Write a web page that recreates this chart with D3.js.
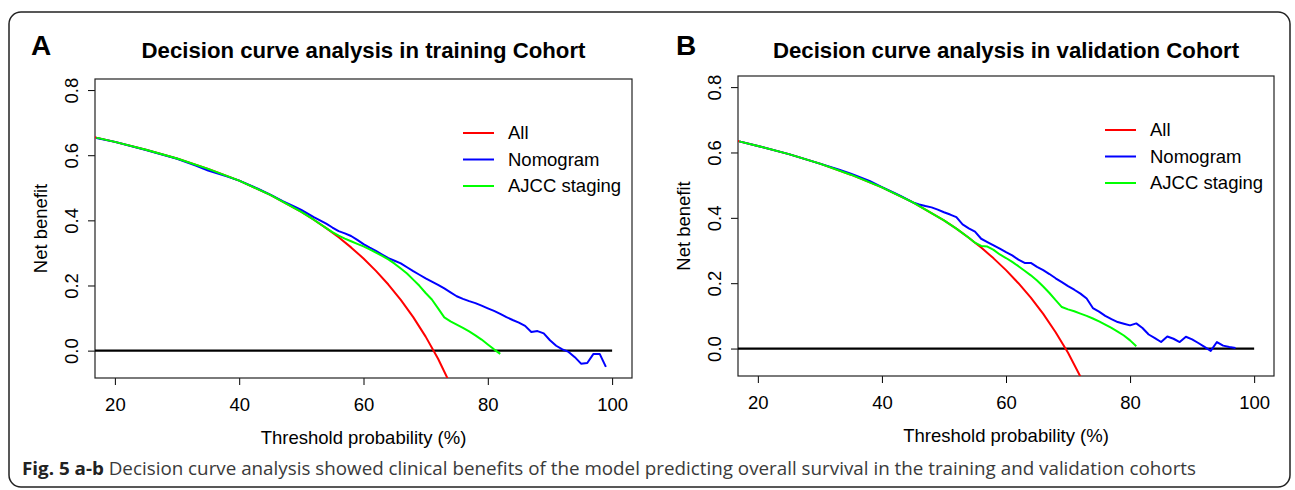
<!DOCTYPE html>
<meta charset="utf-8">
<style>
body { margin: 0; background: #fff; }
svg text { font-family: "Liberation Sans", Arial, sans-serif; }
.caption { font-family: "Open Sans", sans-serif; }
</style>
<svg width="1295" height="490"></svg>
<script src="https://cdn.jsdelivr.net/npm/d3@7"></script>
<script>

// threshold probability (%) and net benefit
var trainAll_x = [10, 17, 20, 25, 30, 35, 40, 45, 50, 52, 54, 55, 56, 58, 60, 62, 64, 66, 68, 70, 72, 74];
var trainAll_y = [0.681, 0.654, 0.641, 0.617, 0.590, 0.558, 0.522, 0.478, 0.426, 0.402, 0.376, 0.362, 0.348, 0.317, 0.283, 0.245, 0.203, 0.156, 0.103, 0.043, -0.025, -0.104];

var trainNomo_x = [17, 20, 25, 30, 33, 35, 38, 40, 43, 45, 47, 49, 50, 52, 53, 54, 55, 56, 57, 58, 59, 60,
  61, 62, 63, 64, 65, 66, 67, 68, 69, 70, 71, 72, 73, 74, 75, 76, 77, 78, 79, 80,
  81, 82, 83, 84, 85, 86, 87, 88, 89, 90, 91, 92, 93, 94, 95, 96, 97, 98, 99];
var trainNomo_y = [0.653, 0.641, 0.616, 0.589, 0.568, 0.553, 0.535, 0.522, 0.497, 0.479, 0.459, 0.441, 0.432, 0.410, 0.400, 0.390, 0.378, 0.367, 0.360, 0.352, 0.340, 0.327,
  0.316, 0.306, 0.295, 0.284, 0.276, 0.268, 0.256, 0.244, 0.233, 0.222, 0.212, 0.202, 0.191, 0.179, 0.167, 0.159, 0.152, 0.146, 0.138, 0.130,
  0.122, 0.113, 0.103, 0.094, 0.086, 0.076, 0.057, 0.060, 0.053, 0.032, 0.015, 0.004, -0.004, -0.020, -0.040, -0.038, -0.010, -0.010, -0.050];

var trainAjcc_x = [17, 20, 25, 30, 35, 40, 45, 50, 52, 54, 55, 56, 57, 58, 59, 60, 61, 62, 63, 64, 65, 66,
  67, 68, 69, 70, 71, 72, 73, 74, 75, 76, 77, 78, 79, 80, 81, 82];
var trainAjcc_y = [0.654, 0.641, 0.617, 0.590, 0.558, 0.522, 0.478, 0.426, 0.402, 0.376, 0.364, 0.353, 0.344, 0.336, 0.328, 0.320, 0.311, 0.301, 0.291, 0.280, 0.267, 0.252,
  0.237, 0.218, 0.199, 0.177, 0.157, 0.130, 0.102, 0.090, 0.080, 0.070, 0.059, 0.047, 0.034, 0.019, 0.004, -0.010];

var validAll_x = [10, 17, 20, 25, 30, 35, 40, 45, 50, 52, 54, 55, 56, 58, 60, 62, 64, 66, 68, 70, 72, 74];
var validAll_y = [0.662, 0.634, 0.620, 0.595, 0.566, 0.532, 0.493, 0.447, 0.392, 0.367, 0.339, 0.324, 0.309, 0.276, 0.240, 0.200, 0.156, 0.106, 0.050, -0.013, -0.086, -0.170];

var validNomo_x = [17, 20, 25, 30, 33, 35, 38, 40, 42, 43, 44, 45, 46, 47, 48, 49, 50, 51, 52, 53, 54, 55,
  56, 57, 58, 59, 60, 61, 62, 63, 64, 65, 66, 67, 68, 69, 70, 71, 72, 73, 74, 75,
  76, 77, 78, 79, 80, 81, 82, 83, 84, 85, 86, 87, 88, 89, 90, 91, 92, 93, 94, 95, 96, 97];
var validNomo_y = [0.634, 0.620, 0.595, 0.566, 0.548, 0.535, 0.513, 0.494, 0.476, 0.467, 0.457, 0.447, 0.441, 0.436, 0.432, 0.425, 0.417, 0.410, 0.402, 0.380, 0.368, 0.358,
  0.336, 0.326, 0.316, 0.306, 0.295, 0.285, 0.272, 0.262, 0.262, 0.250, 0.240, 0.228, 0.215, 0.203, 0.191, 0.180, 0.168, 0.153, 0.124, 0.113,
  0.100, 0.090, 0.081, 0.076, 0.071, 0.077, 0.063, 0.043, 0.032, 0.020, 0.037, 0.030, 0.020, 0.036, 0.028, 0.017, 0.005, -0.007, 0.020, 0.009, 0.005, 0.002];

var validAjcc_x = [17, 20, 25, 30, 35, 40, 45, 50, 52, 54, 55, 56, 57, 58, 59, 60, 61, 62, 63, 64, 65, 66,
  67, 68, 69, 70, 71, 72, 73, 74, 75, 76, 77, 78, 79, 80, 81];
var validAjcc_y = [0.634, 0.620, 0.595, 0.566, 0.532, 0.493, 0.447, 0.392, 0.367, 0.339, 0.324, 0.314, 0.312, 0.302, 0.288, 0.277, 0.265, 0.252, 0.238, 0.224, 0.208, 0.190,
  0.170, 0.148, 0.127, 0.120, 0.114, 0.107, 0.100, 0.092, 0.083, 0.073, 0.063, 0.052, 0.040, 0.025, 0.007];

var seriesNames = ["All", "Nomogram", "AJCC staging"];
var seriesColors = ["#ff0000", "#0000ff", "#00ff00"];
var xTicks = [20, 40, 60, 80, 100];
var yTicks = [0, 0.2, 0.4, 0.6, 0.8];

var fs = 18.5; // base text size, title is 1.2x

var svg = d3.select("svg");

// outer frame
svg.append("rect")
  .attr("x", 9).attr("y", 12)
  .attr("width", 1281).attr("height", 475)
  .attr("rx", 12).attr("ry", 12)
  .attr("fill", "none")
  .attr("stroke", "#222")
  .attr("stroke-width", 1.5);

function drawPanel(p) {
  var x = d3.scaleLinear().domain([16.8, 103.2]).range([p.left, p.right]);
  var y = d3.scaleLinear().domain([-0.084, 0.834]).range([p.bottom, p.top]);

  var g = svg.append("g");

  g.append("clipPath").attr("id", "clip" + p.letter)
    .append("rect")
    .attr("x", p.left).attr("y", p.top)
    .attr("width", p.right - p.left).attr("height", p.bottom - p.top);

  // panel letter and title
  g.append("text")
    .attr("x", p.letterX).attr("y", 55)
    .attr("font-size", 28).attr("font-weight", "bold")
    .text(p.letter);
  g.append("text")
    .attr("x", (p.left + p.right) / 2).attr("y", 58)
    .attr("text-anchor", "middle")
    .attr("font-size", fs * 1.2).attr("font-weight", "bold")
    .text(p.title);

  // axes
  var xAxis = g.append("g")
    .attr("transform", "translate(0," + p.bottom + ")")
    .call(d3.axisBottom(x).tickValues(xTicks).tickSize(7).tickPadding(13));
  xAxis.selectAll("text").attr("font-size", fs).attr("font-family", null).attr("fill", "#000");

  var yAxis = g.append("g")
    .attr("transform", "translate(" + p.left + ",0)")
    .call(d3.axisLeft(y).tickValues(yTicks).tickFormat(d3.format(".1f")).tickSize(7));
  yAxis.selectAll("text")
    .attr("font-size", fs).attr("font-family", null).attr("fill", "#000")
    .attr("text-anchor", "middle")
    .attr("x", null)
    .attr("transform", "translate(-23,0) rotate(-90)")
    .attr("y", 0).attr("dy", "0.35em");
  g.selectAll(".domain").remove();

  // plot box
  g.append("rect")
    .attr("x", p.left).attr("y", p.top)
    .attr("width", p.right - p.left).attr("height", p.bottom - p.top)
    .attr("fill", "none").attr("stroke", "#222").attr("stroke-width", 1.2);

  g.append("text")
    .attr("x", (p.left + p.right) / 2).attr("y", p.bottom + 66)
    .attr("text-anchor", "middle").attr("font-size", fs)
    .text("Threshold probability (%)");
  g.append("text")
    .attr("transform", "translate(" + (p.left - 48) + "," + ((p.top + p.bottom) / 2) + ") rotate(-90)")
    .attr("text-anchor", "middle").attr("font-size", fs)
    .text("Net benefit");

  var line = d3.line()
    .x(function(d) { return x(d[0]); })
    .y(function(d) { return y(d[1]); });

  var plot = g.append("g").attr("clip-path", "url(#clip" + p.letter + ")");

  // treat-none reference line
  plot.append("path")
    .datum([[0, 0], [100, 0]])
    .attr("d", line)
    .attr("stroke", "#000").attr("stroke-width", 2.2).attr("fill", "none");

  p.series.forEach(function(s, i) {
    plot.append("path")
      .datum(d3.zip(s[0], s[1]))
      .attr("d", line)
      .attr("fill", "none")
      .attr("stroke", seriesColors[i])
      .attr("stroke-width", 2)
      .attr("stroke-linejoin", "round");
  });

  // legend
  var leg = g.append("g");
  seriesNames.forEach(function(name, i) {
    var ly = p.top + 54 + i * 26.5;
    leg.append("line")
      .attr("x1", p.right - 169).attr("x2", p.right - 138)
      .attr("y1", ly).attr("y2", ly)
      .attr("stroke", seriesColors[i]).attr("stroke-width", 2);
    leg.append("text")
      .attr("x", p.right - 124).attr("y", ly)
      .attr("dy", "0.35em").attr("font-size", fs)
      .text(name);
  });
}

drawPanel({
  letter: "A", letterX: 31,
  title: "Decision curve analysis in training Cohort",
  left: 95, right: 632, top: 79, bottom: 378,
  series: [[trainAll_x, trainAll_y], [trainNomo_x, trainNomo_y], [trainAjcc_x, trainAjcc_y]]
});

drawPanel({
  letter: "B", letterX: 676,
  title: "Decision curve analysis in validation Cohort",
  left: 738, right: 1274, top: 76, bottom: 376,
  series: [[validAll_x, validAll_y], [validNomo_x, validNomo_y], [validAjcc_x, validAjcc_y]]
});

// figure caption
var cap = svg.append("text")
  .attr("class", "caption")
  .attr("x", 22).attr("y", 475)
  .attr("font-size", 18)
  .attr("textLength", 1174)
  .attr("lengthAdjust", "spacingAndGlyphs")
  .attr("fill", "#3a3a3a");
cap.append("tspan").attr("font-weight", "bold").attr("fill", "#222").text("Fig. 5 a-b");
cap.append("tspan").text(" Decision curve analysis showed clinical benefits of the model predicting overall survival in the training and validation cohorts");

</script>
